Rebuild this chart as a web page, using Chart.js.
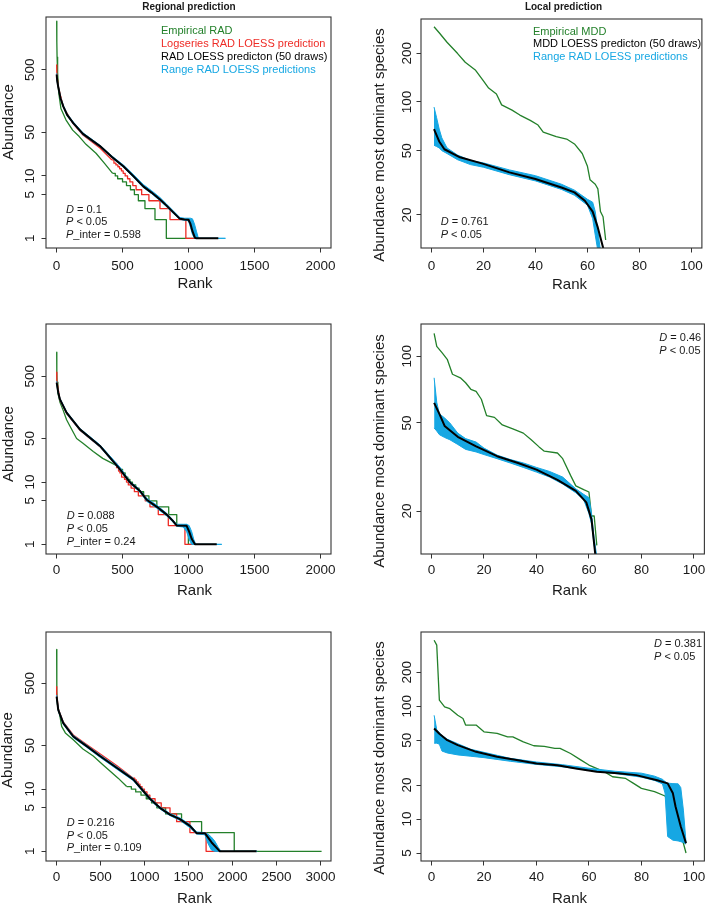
<!DOCTYPE html>
<html>
<head>
<meta charset="utf-8">
<script src="https://cdn.jsdelivr.net/npm/chart.js@4.4.1/dist/chart.umd.min.js"></script>
<style>
  html, body { margin: 0; padding: 0; background: #fff; overflow: hidden; }
  #wrap { position: relative; width: 709px; height: 908px; }
  canvas { position: absolute; }
</style>
</head>
<body>
<div id="wrap"></div>
<script>
// ---------- top left: regional prediction ----------
const aEmpRank = [1, 2, 4, 8, 16, 33, 71, 122, 172, 223, 299, 362, 425];
const aEmpVal = [3000, 1400, 800, 450, 220, 120, 79, 54, 42.6, 32, 23, 16, 11];
const aEmpTailRank = [425, 445, 463, 500, 530, 560, 590, 620, 670, 746, 832, 1040];
const aEmpTailVal = [11, 10, 9, 8, 7, 6, 5, 4, 3, 2, 1, 1];
const aLogRank = [1, 2, 13, 51, 127, 200, 329, 420];
const aLogVal = [600, 450, 265, 128, 68, 45, 28, 18];
const aLogTailRank = [420, 435, 450, 465, 478, 492, 505, 520, 538, 556, 578, 603, 645, 700, 784, 860, 980, 1060];
const aLogTailVal = [18, 16, 15, 14, 13, 12, 11, 10, 9, 8, 7, 6, 5, 4, 3, 2, 1, 1];
const aFitRank = [1, 5, 13, 30, 51, 80, 127, 200, 329, 420, 506, 580, 657, 720, 784, 830, 885, 935, 970, 1000, 1015, 1030, 1049, 1060, 1226];
const aFitVal = [420, 330, 265, 175, 130, 95, 70, 47, 30, 20, 14.3, 10, 6.8, 5.4, 4.2, 3.4, 2.6, 2.05, 2, 1.98, 1.7, 1.3, 1.02, 1, 1];
const aBandRank = [1, 5, 13, 30, 51, 80, 127, 200, 329, 420, 506, 580, 657, 720, 784, 830, 885, 935, 970, 1000, 1015, 1030, 1045, 1060, 1075, 1100, 1280];
const aBandHi = [440, 345, 275, 182, 135, 99, 73, 49, 31, 20.8, 15, 10.6, 7.3, 5.8, 4.5, 3.6, 2.75, 2.15, 2.1, 2.1, 2.1, 2.05, 1.7, 1.3, 1.0, 1.0, 1.0];
const aBandLo = [405, 318, 258, 170, 126, 92, 68, 45.5, 29.2, 19.4, 13.8, 9.6, 6.5, 5.2, 4.0, 3.25, 2.5, 2.0, 1.95, 1.9, 1.5, 1.15, 1.0, 1.0, 1.0, 1.0, 1.0];

// ---------- top right: local prediction ----------
const bEmpRank = [1, 3, 6, 10, 13, 17, 20, 22, 25, 27, 31, 34, 38, 41, 43, 48, 52, 55, 58, 60, 61, 63, 64, 65, 66, 67];
const bEmpVal = [292, 268, 234, 200, 176, 157, 135, 122, 112, 96, 89, 83, 77, 72, 65, 61, 59, 55, 48, 40, 33, 31, 29, 21, 19.5, 14];
const bFitRank = [1, 3, 5, 11, 20, 30, 40, 50, 55, 59, 62, 64, 66, 67];
const bFitVal = [68, 57, 51, 45.5, 41.4, 36.7, 33.4, 29.6, 27.6, 24.5, 21, 16.7, 12.6, 11];
const bBandRank = [1, 2, 3, 4, 6, 10, 15, 20, 30, 40, 50, 55, 60, 62, 63, 64, 65];
const bBandHi = [93, 80, 68, 60, 52, 47, 43.5, 42, 38, 35, 31, 28.5, 25, 24, 21, 16, 12];
const bBandLo = [54, 53, 52, 50, 48, 44, 41, 39.5, 35.5, 32.5, 28.8, 26.5, 23, 19, 15, 12, 11];

// ---------- middle left ----------
const cEmpRank = [1, 2, 4, 10, 26, 51, 76, 100, 152, 200, 278, 350, 456, 480];
const cEmpVal = [1210, 600, 400, 270, 190, 140, 100, 80, 50, 42, 31, 24, 18.3, 16];
const cEmpTailRank = [480, 500, 520, 540, 556, 575, 600, 625, 660, 700, 760, 850, 911, 999, 1040];
const cEmpTailVal = [16, 14, 12, 11, 10, 9, 8, 7, 6, 5, 4, 3, 2, 1, 1];
const cLogRank = [1, 2, 26, 76, 177, 329, 440];
const cLogVal = [580, 430, 205, 126, 68, 37, 20];
const cLogTailRank = [440, 455, 470, 480, 493, 515, 530, 544, 565, 590, 620, 672, 708, 771, 847, 973, 1030];
const cLogTailVal = [20, 17, 15, 14, 12, 11, 10, 9, 8, 7, 6, 5, 4, 3, 2, 1, 1];
const cFitRank = [1, 13, 26, 76, 177, 329, 481, 556, 632, 683, 760, 835, 880, 911, 986, 1005, 1024, 1049, 1214];
const cFitVal = [393, 272, 212, 130, 70, 38, 16, 9.9, 7.2, 5.2, 4, 3, 2.4, 2.0, 1.98, 1.6, 1.23, 1.0, 1];
const cBandRank = [1, 13, 26, 76, 177, 329, 481, 556, 632, 683, 760, 835, 880, 911, 960, 986, 1005, 1024, 1040, 1055, 1252];
const cBandHi = [415, 282, 220, 135, 72.5, 39.5, 17.3, 10.3, 7.5, 5.5, 4.25, 3.15, 2.5, 2.1, 2.1, 2.1, 2.0, 1.6, 1.2, 1.0, 1.0];
const cBandLo = [375, 262, 205, 125, 67.5, 36.6, 15.4, 9.5, 6.9, 4.9, 3.8, 2.85, 2.3, 1.95, 1.9, 1.6, 1.2, 1.0, 1.0, 1.0, 1.0];

// ---------- middle right ----------
const dEmpRank = [1, 2, 4, 6, 8, 11, 13, 15, 17, 19, 21, 24, 27, 31, 35, 38, 41, 43, 48, 50, 53, 55, 58, 60, 61, 62, 63];
const dEmpVal = [127, 111, 104, 97, 83, 80, 76, 71, 69.5, 64, 54, 53, 49, 47, 45, 42, 39, 37.3, 36.6, 34.5, 29, 26, 25, 24.4, 19, 19, 14];
const dFitRank = [1, 3, 5, 10, 17, 25, 33, 40, 48, 55, 59, 61, 62.4];
const dFitVal = [61.6, 55, 48.5, 43.3, 39.2, 35.4, 33, 30.8, 27.7, 24.7, 21.9, 18.3, 12.8];
const dBandRank = [1, 2, 3, 5, 7, 10, 13, 17, 20, 25, 30, 35, 40, 45, 50, 55, 58, 60, 61, 62, 63];
const dBandHi = [80, 62, 55, 52.7, 50, 45, 42.5, 41, 38.5, 35.8, 34.2, 33, 31.5, 30.2, 28.5, 25.2, 23.8, 23, 19.5, 15, 12.5];
const dBandLo = [47.5, 46, 44.3, 43, 42, 40, 38, 37, 36, 34.5, 33, 31.5, 30, 28.5, 26.5, 24.2, 22.5, 19.5, 17.5, 14, 12];

// ---------- bottom left ----------
const eEmpRank = [1, 2, 4, 10, 39, 58, 100, 190, 300, 417, 520, 607, 700, 797];
const eEmpVal = [1750, 800, 380, 230, 147, 102, 80, 62, 44, 34, 25, 19.5, 15, 11];
const eEmpTailRank = [797, 850, 900, 960, 1020, 1080, 1140, 1240, 1421, 1649, 2020, 3013];
const eEmpTailVal = [11, 10, 9, 8, 7, 6, 5, 4, 3, 2, 1, 1];
const eLogRank = [1, 2, 19, 76, 190, 342, 493, 683, 872];
const eLogVal = [442, 330, 195, 120, 74, 52, 37, 24, 15];
const eLogTailRank = [872, 889, 907, 927, 949, 972, 999, 1028, 1061, 1120, 1190, 1290, 1365, 1516, 1700, 1880];
const eLogTailVal = [15, 14, 13, 12, 11, 10, 9, 8, 7, 6, 5, 4, 3, 2, 1, 1];
const eFitRank = [1, 19, 76, 190, 342, 493, 683, 872, 1061, 1175, 1289, 1402, 1516, 1592, 1686, 1763, 1857, 2274];
const eFitVal = [306, 188, 115, 70, 49, 34, 22, 14.3, 7, 5.0, 3.9, 3.3, 2.56, 1.96, 1.96, 1.39, 1.0, 1];
const eBandRank = [1, 19, 76, 190, 342, 493, 683, 872, 1061, 1175, 1289, 1402, 1516, 1592, 1686, 1720, 1760, 1800, 1840, 1870, 2280];
const eBandHi = [325, 196, 120, 73, 51, 35.5, 23, 14.9, 7.3, 5.2, 4.05, 3.45, 2.7, 2.05, 2.0, 1.9, 1.7, 1.45, 1.15, 1.0, 1.0];
const eBandLo = [290, 181, 110, 67, 47, 32.5, 21, 13.7, 6.7, 4.8, 3.75, 3.15, 2.4, 1.9, 1.85, 1.35, 1.05, 1.0, 1.0, 1.0, 1.0];

// ---------- bottom right ----------
const fEmpRank = [1, 2, 3, 5, 7, 10, 12, 13, 17, 20, 25, 29, 31, 35, 39, 43, 47, 49, 53, 57, 60, 66, 69, 74, 77, 80, 85, 89, 91, 93, 95, 96, 97];
const fEmpVal = [384, 347, 113, 98.6, 95, 83, 77.8, 68, 68, 59.3, 57.3, 53.5, 53.5, 48.3, 44.6, 44, 42.3, 42.3, 38.1, 33.3, 30.1, 26.2, 23.7, 22.9, 20.7, 18.7, 17.5, 16, 13, 9.5, 7, 6.1, 5];
const fFitRank = [1, 3, 6, 10, 17, 25, 33, 40, 48, 55, 63, 71, 78, 86, 90, 92, 93, 95, 97];
const fFitVal = [63.5, 57, 50, 45.2, 39.4, 35.6, 33.2, 31.1, 30, 28.1, 26.3, 25.4, 24.5, 22.1, 20.7, 16.9, 12.9, 8.6, 6.1];
const fBandRank = [1, 2, 3, 4, 6, 10, 15, 20, 30, 40, 50, 60, 70, 80, 85, 88, 89, 90, 92, 94, 95, 96, 97];
const fBandHi = [83, 62, 58, 55, 51, 46.5, 41.5, 39, 34.5, 32, 30.3, 28.2, 26.5, 25.5, 24, 22.5, 21.5, 20.8, 20.6, 20.5, 19, 12, 6.2];
const fBandLo = [47, 47, 46, 40, 38.5, 37, 36, 35, 32.5, 30.5, 29, 27, 25.3, 23.5, 22, 20.5, 17, 7, 6.5, 6.4, 6.3, 6.2, 6];

// ---------- axes ----------
const rankTicks2000 = [0, 500, 1000, 1500, 2000];
const rankTicks3000 = [0, 500, 1000, 1500, 2000, 2500, 3000];
const rankTicks100 = [0, 20, 40, 60, 80, 100];
const abundTicks = [1, 5, 10, 50, 500];
const bTicks = [20, 50, 100, 200];
const dTicks = [20, 50, 100];
const fTicks = [5, 10, 20, 50, 100, 200];

const FONT = "'Liberation Sans', Arial, Helvetica, sans-serif";
const GREEN = '#23802a';
const RED = '#ee2b25';
const BLUE = '#16a7e3';
const INK = '#1a1a1a';

function pts(xs, ys) {
  return xs.map((x, i) => ({ x: x, y: ys[i] }));
}

function line(xs, ys, color, width, order, stepped) {
  return {
    data: pts(xs, ys), borderColor: color, borderWidth: width, order: order,
    stepped: !!stepped, pointRadius: 0, fill: false, borderJoinStyle: 'round'
  };
}

// blue range band: lower edge, then upper edge filled down to it
function band(xs, lo, hi) {
  return [
    { data: pts(xs, lo), borderColor: BLUE, borderWidth: 1, pointRadius: 0, fill: false, order: 1 },
    { data: pts(xs, hi), borderColor: BLUE, borderWidth: 1, pointRadius: 0, fill: '-1', backgroundColor: BLUE, order: 1 }
  ];
}

const panels = [
  {
    x0: 0, y0: 0, w: 354, h: 300, box: [46, 17, 331, 248],
    xMin: -80, xMax: 2080, xTicks: rankTicks2000, yMin: 0.72, yMax: 3500, yTicks: abundTicks,
    labCenter: 18.5, yTickX: 30, yTitle: 'Abundance', yTitlePos: [9, 122], rankPos: [195, 284],
    title: 'Regional prediction', titlePos: [189, 7],
    legend: { x: 161, ys: [31, 43.5, 57, 70], items: [['Empirical RAD', GREEN], ['Logseries RAD LOESS prediction', RED], ['RAD LOESS predicton (50 draws)', '#000'], ['Range RAD LOESS predictions', BLUE]] },
    notes: { x: 66, ys: [210, 222, 235], lines: [[['D', true], [' = 0.1', false]], [['P', true], [' < 0.05', false]], [['P', true], ['_inter = 0.598', false]]] },
    datasets: [
      line(aFitRank, aFitVal, '#000', 2, 0),
      ...band(aBandRank, aBandLo, aBandHi),
      line(aLogRank, aLogVal, RED, 1.3, 2),
      line(aLogTailRank, aLogTailVal, RED, 1.3, 2, true),
      line(aEmpRank, aEmpVal, GREEN, 1.3, 3),
      line(aEmpTailRank, aEmpTailVal, GREEN, 1.3, 3, true)
    ]
  },
  {
    x0: 354, y0: 0, w: 355, h: 300, box: [421, 19, 705, 248],
    xMin: -4, xMax: 104, xTicks: rankTicks100, yMin: 12.5, yMax: 326, yTicks: bTicks,
    labCenter: 18.7, yTickX: 407, yTitle: 'Abundance most dominant species', yTitlePos: [380, 145], rankPos: [569.5, 285],
    title: 'Local prediction', titlePos: [563.5, 7],
    legend: { x: 533, ys: [31.7, 44.3, 56.7], items: [['Empirical MDD', GREEN], ['MDD LOESS predicton (50 draws)', '#000'], ['Range RAD LOESS predictions', BLUE]] },
    notes: { x: 440.7, ys: [221.7, 235], lines: [[['D', true], [' = 0.761', false]], [['P', true], [' < 0.05', false]]] },
    datasets: [
      line(bFitRank, bFitVal, '#000', 2, 0),
      ...band(bBandRank, bBandLo, bBandHi),
      line(bEmpRank, bEmpVal, GREEN, 1.3, 3)
    ]
  },
  {
    x0: 0, y0: 300, w: 354, h: 300, box: [46, 324, 331, 554],
    xMin: -80, xMax: 2080, xTicks: rankTicks2000, yMin: 0.73, yMax: 3440, yTicks: abundTicks,
    labCenter: 16.2, yTickX: 30, yTitle: 'Abundance', yTitlePos: [9, 444], rankPos: [194.5, 591],
    notes: { x: 66.7, ys: [516, 529.3, 541.7], lines: [[['D', true], [' = 0.088', false]], [['P', true], [' < 0.05', false]], [['P', true], ['_inter = 0.24', false]]] },
    datasets: [
      line(cFitRank, cFitVal, '#000', 2, 0),
      ...band(cBandRank, cBandLo, cBandHi),
      line(cLogRank, cLogVal, RED, 1.3, 2),
      line(cLogTailRank, cLogTailVal, RED, 1.3, 2, true),
      line(cEmpRank, cEmpVal, GREEN, 1.3, 3),
      line(cEmpTailRank, cEmpTailVal, GREEN, 1.3, 3, true)
    ]
  },
  {
    x0: 354, y0: 300, w: 355, h: 300, box: [421, 324, 705, 554],
    xMin: -4, xMax: 104, xTicks: rankTicks100, yMin: 12.8, yMax: 140, yTicks: dTicks,
    labCenter: 16.3, yTickX: 407, yTitle: 'Abundance most dominant species', yTitlePos: [380, 451], rankPos: [569.5, 591],
    notes: { x: 659.3, ys: [337.7, 351], lines: [[['D', true], [' = 0.46', false]], [['P', true], [' < 0.05', false]]] },
    datasets: [
      line(dFitRank, dFitVal, '#000', 2, 0),
      ...band(dBandRank, dBandLo, dBandHi),
      line(dEmpRank, dEmpVal, GREEN, 1.3, 3)
    ]
  },
  {
    x0: 0, y0: 600, w: 354, h: 308, box: [46, 632, 331, 861],
    xMin: -120, xMax: 3120, xTicks: rankTicks3000, yMin: 0.726, yMax: 3340, yTicks: abundTicks,
    labCenter: 16.3, yTickX: 30, yTitle: 'Abundance', yTitlePos: [8, 750], rankPos: [194.5, 899],
    notes: { x: 66.7, ys: [822.7, 836, 848.3], lines: [[['D', true], [' = 0.216', false]], [['P', true], [' < 0.05', false]], [['P', true], ['_inter = 0.109', false]]] },
    datasets: [
      line(eFitRank, eFitVal, '#000', 2, 0),
      ...band(eBandRank, eBandLo, eBandHi),
      line(eLogRank, eLogVal, RED, 1.3, 2),
      line(eLogTailRank, eLogTailVal, RED, 1.3, 2, true),
      line(eEmpRank, eEmpVal, GREEN, 1.3, 3),
      line(eEmpTailRank, eEmpTailVal, GREEN, 1.3, 3, true)
    ]
  },
  {
    x0: 354, y0: 600, w: 355, h: 308, box: [421, 632, 705, 861],
    xMin: -4, xMax: 104, xTicks: rankTicks100, yMin: 4.25, yMax: 454, yTicks: fTicks,
    labCenter: 16.3, yTickX: 407, yTitle: 'Abundance most dominant species', yTitlePos: [380, 758], rankPos: [569.5, 899],
    notes: { x: 654, ys: [644.3, 656.7], lines: [[['D', true], [' = 0.381', false]], [['P', true], [' < 0.05', false]]] },
    datasets: [
      line(fFitRank, fFitVal, '#000', 2, 0),
      ...band(fBandRank, fBandLo, fBandHi),
      line(fEmpRank, fEmpVal, GREEN, 1.3, 3)
    ]
  }
];

// R-like frame, rotated y labels, titles, legend text and stats notes
function frameFor(p) {
  return {
    id: 'rFrame',
    afterDraw(chart) {
      const ctx = chart.ctx, a = chart.chartArea, ys = chart.scales.y;
      const ox = p.x0, oy = p.y0;
      ctx.save();
      ctx.strokeStyle = '#333';
      ctx.lineWidth = 1.1;
      ctx.strokeRect(a.left, a.top, a.right - a.left, a.bottom - a.top);

      ctx.fillStyle = INK;
      ctx.textAlign = 'center';
      ctx.textBaseline = 'middle';
      ctx.font = '13.5px ' + FONT;
      p.yTicks.forEach(v => {
        ctx.save();
        ctx.translate(p.yTickX - ox, ys.getPixelForValue(v));
        ctx.rotate(-Math.PI / 2);
        ctx.fillText(String(v), 0, 0);
        ctx.restore();
      });

      ctx.font = '15px ' + FONT;
      ctx.fillText('Rank', p.rankPos[0] - ox, p.rankPos[1] - oy);
      ctx.save();
      ctx.translate(p.yTitlePos[0] - ox, p.yTitlePos[1] - oy);
      ctx.rotate(-Math.PI / 2);
      ctx.fillText(p.yTitle, 0, 0);
      ctx.restore();

      if (p.title) {
        ctx.font = 'bold 10px ' + FONT;
        ctx.fillText(p.title, p.titlePos[0] - ox, p.titlePos[1] - oy);
      }

      ctx.textAlign = 'left';
      if (p.legend) {
        ctx.font = '11px ' + FONT;
        p.legend.items.forEach((it, i) => {
          ctx.fillStyle = it[1];
          ctx.fillText(it[0], p.legend.x - ox, p.legend.ys[i] - oy);
        });
      }

      ctx.fillStyle = INK;
      p.notes.lines.forEach((parts, i) => {
        let x = p.notes.x - ox;
        parts.forEach(part => {
          ctx.font = (part[1] ? 'italic ' : '') + '11px ' + FONT;
          ctx.fillText(part[0], x, p.notes.ys[i] - oy);
          x += ctx.measureText(part[0]).width;
        });
      });
      ctx.restore();
    }
  };
}

function makePanel(p) {
  const c = document.createElement('canvas');
  c.width = p.w;
  c.height = p.h;
  c.style.left = p.x0 + 'px';
  c.style.top = p.y0 + 'px';
  c.style.width = p.w + 'px';
  c.style.height = p.h + 'px';
  document.getElementById('wrap').appendChild(c);
  const [L, T, R, B] = p.box;
  const tickLen = 4.5;
  const tickGrid = { display: true, drawOnChartArea: false, drawTicks: true, tickLength: tickLen, color: '#333', lineWidth: 1 };

  new Chart(c, {
    type: 'line',
    data: { datasets: p.datasets },
    options: {
      responsive: false,
      animation: false,
      events: [],
      layout: { padding: { left: 0, top: T - p.y0, right: p.x0 + p.w - R, bottom: 0 } },
      plugins: { legend: { display: false }, tooltip: { enabled: false } },
      scales: {
        x: {
          type: 'linear', min: p.xMin, max: p.xMax,
          afterBuildTicks: s => { s.ticks = p.xTicks.map(v => ({ value: v })); },
          afterFit: s => { s.height = p.y0 + p.h - B; },
          grid: tickGrid,
          border: { display: false },
          ticks: {
            autoSkip: false, maxRotation: 0, minRotation: 0, color: INK,
            padding: p.labCenter - tickLen - 8.1,
            font: { family: FONT, size: 13.5 },
            callback: v => String(v)
          }
        },
        y: {
          type: 'logarithmic', min: p.yMin, max: p.yMax,
          afterBuildTicks: s => { s.ticks = p.yTicks.map(v => ({ value: v })); },
          afterFit: s => { s.width = L - p.x0; },
          grid: tickGrid,
          border: { display: false },
          ticks: { display: false }
        }
      }
    },
    plugins: [frameFor(p)]
  });
}

panels.forEach(makePanel);
</script>
</body>
</html>
